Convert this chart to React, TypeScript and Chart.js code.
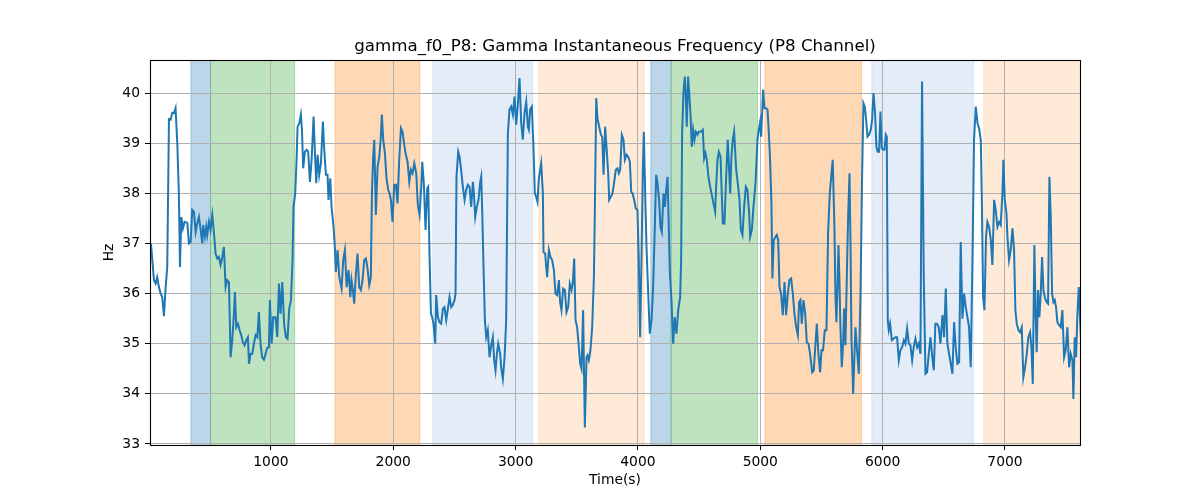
import React, { useEffect, useRef } from "react";
import { Chart, registerables } from "chart.js";

Chart.register(...registerables);

const chartTitle = "gamma_f0_P8: Gamma Instantaneous Frequency (P8 Channel)";
const xLabel = "Time(s)";
const yLabel = "Hz";

const timeS = [
  20, 44, 58, 71, 85, 99, 112, 126, 140, 153, 167, 180, 194, 208, 221, 235, 248, 257, 268, 281,
  295, 317, 330, 344, 357, 371, 385, 398, 412, 426, 439, 447, 461, 472, 480, 494, 507, 521, 535, 548,
  562, 575, 589, 603, 616, 630, 643, 657, 671, 684, 698, 706, 717, 731, 744, 758, 771, 785, 799, 812,
  821, 834, 848, 861, 875, 889, 902, 916, 929, 943, 957, 970, 984, 992, 1006, 1019, 1038, 1052, 1066, 1079,
  1093, 1109, 1123, 1136, 1150, 1164, 1177, 1185, 1199, 1210, 1218, 1232, 1245, 1254, 1264, 1278, 1292, 1305, 1319, 1333,
  1349, 1360, 1371, 1382, 1395, 1409, 1425, 1436, 1450, 1463, 1471, 1485, 1496, 1512, 1523, 1531, 1545, 1559, 1578, 1591,
  1605, 1619, 1635, 1649, 1659, 1670, 1681, 1695, 1708, 1722, 1736, 1749, 1763, 1777, 1790, 1804, 1817, 1826, 1836, 1845,
  1858, 1872, 1886, 1899, 1907, 1918, 1932, 1945, 1959, 1970, 1981, 1994, 2008, 2022, 2035, 2049, 2063, 2076, 2090, 2103,
  2117, 2131, 2144, 2158, 2172, 2188, 2201, 2215, 2229, 2237, 2250, 2264, 2278, 2286, 2297, 2308, 2318, 2329, 2343, 2351,
  2365, 2378, 2392, 2406, 2419, 2433, 2447, 2460, 2474, 2487, 2501, 2509, 2517, 2531, 2542, 2555, 2569, 2583, 2596, 2610,
  2624, 2637, 2651, 2659, 2670, 2683, 2697, 2711, 2719, 2727, 2738, 2749, 2760, 2773, 2787, 2798, 2814, 2825, 2836, 2847,
  2858, 2874, 2882, 2896, 2910, 2923, 2937, 2950, 2964, 2978, 2991, 3005, 3019, 3032, 3046, 3059, 3073, 3087, 3100, 3108,
  3119, 3133, 3147, 3157, 3168, 3179, 3190, 3209, 3223, 3228, 3242, 3250, 3258, 3272, 3285, 3299, 3313, 3326, 3340, 3354,
  3364, 3375, 3389, 3403, 3416, 3430, 3443, 3457, 3468, 3479, 3490, 3503, 3517, 3528, 3539, 3552, 3566, 3580, 3588, 3599,
  3612, 3626, 3640, 3648, 3659, 3669, 3683, 3697, 3708, 3719, 3732, 3743, 3757, 3765, 3778, 3792, 3806, 3819, 3833, 3844,
  3855, 3868, 3882, 3893, 3907, 3920, 3934, 3945, 3956, 3969, 3983, 3996, 4007, 4018, 4029, 4040, 4048, 4059, 4070, 4084,
  4097, 4111, 4124, 4138, 4149, 4160, 4173, 4184, 4195, 4209, 4220, 4231, 4242, 4252, 4261, 4274, 4288, 4301, 4315, 4329,
  4345, 4353, 4361, 4372, 4383, 4391, 4399, 4410, 4421, 4429, 4440, 4451, 4462, 4473, 4487, 4497, 4514, 4530, 4541, 4552,
  4563, 4576, 4590, 4604, 4617, 4631, 4639, 4650, 4661, 4675, 4685, 4694, 4707, 4721, 4734, 4745, 4754, 4764, 4775, 4786,
  4794, 4803, 4816, 4830, 4841, 4854, 4868, 4882, 4895, 4909, 4917, 4931, 4944, 4961, 4977, 4988, 4999, 5007, 5015, 5023,
  5034, 5048, 5059, 5070, 5080, 5091, 5099, 5110, 5124, 5135, 5146, 5157, 5170, 5184, 5198, 5211, 5225, 5238, 5252, 5266,
  5279, 5293, 5307, 5317, 5328, 5339, 5353, 5367, 5380, 5394, 5407, 5424, 5437, 5451, 5462, 5475, 5489, 5500, 5513, 5527,
  5541, 5554, 5568, 5582, 5592, 5606, 5614, 5622, 5631, 5639, 5647, 5655, 5666, 5677, 5685, 5696, 5710, 5718, 5729, 5737,
  5745, 5759, 5770, 5778, 5789, 5805, 5819, 5832, 5843, 5854, 5865, 5876, 5889, 5903, 5914, 5925, 5938, 5949, 5960, 5971,
  5982, 5993, 6004, 6015, 6026, 6034, 6042, 6050, 6061, 6075, 6088, 6105, 6118, 6132, 6145, 6159, 6173, 6186, 6200, 6214,
  6227, 6241, 6254, 6268, 6282, 6295, 6309, 6322, 6336, 6350, 6363, 6377, 6391, 6404, 6418, 6431, 6445, 6459, 6472, 6489,
  6502, 6516, 6529, 6543, 6557, 6570, 6584, 6597, 6611, 6625, 6638, 6652, 6666, 6679, 6693, 6706, 6720, 6734, 6747, 6761,
  6775, 6788, 6802, 6810, 6821, 6832, 6845, 6856, 6870, 6884, 6897, 6911, 6924, 6938, 6952, 6965, 6979, 6987, 6998, 7012,
  7020, 7033, 7047, 7061, 7074, 7085, 7096, 7110, 7123, 7137, 7150, 7164, 7178, 7191, 7205, 7216, 7227, 7240, 7251, 7259,
  7270, 7281, 7292, 7303, 7314, 7328, 7341, 7352, 7363, 7374, 7385, 7396, 7407, 7417, 7428, 7442, 7456, 7469, 7483, 7496,
  7510, 7524, 7537, 7551, 7559, 7570, 7581, 7592, 7603, 7620,
];

const freqHz = [
  37.0, 36.27, 36.2, 36.33, 36.13, 36.0, 35.93, 35.55, 36.13, 36.53, 39.48, 39.47, 39.61, 39.6, 39.7, 39.0, 38.0, 36.53, 37.53, 37.3,
  37.43, 37.41, 37.0, 37.03, 37.67, 37.63, 37.23, 37.4, 37.53, 37.27, 37.0, 37.37, 37.13, 37.33, 37.17, 37.43, 37.27, 37.57, 37.2, 36.8,
  36.7, 36.73, 36.57, 36.73, 36.93, 36.13, 36.27, 36.23, 34.73, 35.07, 35.6, 36.03, 35.33, 35.4, 35.27, 35.17, 35.03, 34.97, 35.07, 35.13,
  34.6, 34.8, 34.8, 35.0, 35.17, 35.13, 35.63, 34.97, 34.73, 34.68, 34.8, 34.92, 34.93, 35.87, 35.0, 35.53, 35.53, 35.13, 36.2, 35.6,
  36.23, 35.37, 35.13, 35.1, 35.7, 35.87, 36.67, 37.73, 38.0, 38.67, 39.33, 39.4, 39.57, 39.27, 38.5, 38.83, 38.87, 38.83, 38.23, 38.67,
  39.53, 38.8, 38.2, 38.77, 38.37, 38.6, 39.43, 38.87, 38.37, 38.37, 37.87, 38.3, 37.73, 37.33, 36.93, 36.43, 36.87, 36.33, 36.1, 36.67,
  36.87, 36.13, 36.47, 35.93, 36.27, 36.07, 35.8, 36.4, 36.8, 36.13, 36.07, 36.27, 36.67, 36.7, 36.5, 36.17, 36.33, 38.0, 38.73, 39.07,
  37.57, 38.53, 38.73, 39.13, 39.57, 39.07, 38.8, 38.3, 38.07, 38.0, 37.87, 37.43, 38.17, 38.17, 37.8, 38.67, 39.3, 39.23, 38.97, 38.77,
  38.63, 38.23, 38.47, 38.4, 38.6, 38.4, 37.77, 37.57, 38.13, 38.63, 38.2, 37.27, 38.1, 38.13, 36.73, 35.6, 35.53, 35.4, 35.0, 35.97,
  35.53, 35.43, 35.4, 35.7, 35.73, 35.47, 35.7, 35.93, 35.73, 35.77, 35.87, 36.0, 38.33, 38.83, 38.73, 38.47, 38.13, 37.87, 38.07, 38.17,
  38.13, 37.73, 38.23, 38.0, 37.53, 37.73, 37.87, 38.23, 38.33, 37.67, 36.53, 35.47, 35.13, 35.27, 34.73, 34.93, 35.13, 34.67, 34.47, 34.8,
  35.0, 34.8, 34.53, 34.3, 34.73, 35.47, 39.2, 39.67, 39.73, 39.57, 39.93, 39.37, 39.8, 40.3, 39.4, 39.07, 39.6, 39.83, 39.33, 39.27,
  39.67, 39.73, 38.87, 38.0, 37.93, 37.83, 38.3, 38.6, 38.0, 36.83, 36.8, 36.53, 36.33, 36.87, 36.73, 36.67, 36.47, 36.0, 35.97, 36.27,
  35.83, 35.67, 36.1, 36.07, 35.63, 35.73, 36.2, 36.07, 36.23, 36.7, 35.47, 35.33, 34.93, 34.6, 34.5, 35.67, 33.33, 34.73, 34.77, 34.67,
  34.87, 35.33, 36.33, 37.67, 39.9, 39.5, 39.33, 39.17, 39.13, 38.37, 39.33, 38.93, 38.4, 37.87, 37.93, 38.0, 38.23, 38.47, 38.5, 38.4,
  38.47, 39.17, 39.07, 38.67, 38.77, 38.73, 38.63, 38.03, 38.0, 37.87, 37.7, 37.67, 36.67, 35.13, 36.67, 38.47, 39.23, 38.0, 36.93, 36.0,
  35.2, 35.47, 36.13, 37.33, 38.37, 38.2, 37.87, 37.33, 37.23, 38.0, 37.73, 38.07, 38.33, 37.33, 36.4, 35.87, 35.0, 35.53, 35.2, 35.67,
  35.93, 36.67, 39.2, 40.0, 40.33, 39.93, 39.33, 40.33, 39.93, 39.6, 38.93, 39.27, 39.07, 39.23, 39.17, 39.23, 39.23, 39.27, 38.7, 38.8,
  38.67, 38.33, 38.13, 37.97, 37.8, 37.63, 38.13, 38.67, 38.83, 38.73, 38.0, 37.4, 37.4, 38.33, 39.07, 38.47, 38.0, 38.73, 39.07, 39.23,
  38.87, 38.47, 38.2, 37.87, 37.27, 37.17, 37.73, 38.13, 38.07, 37.6, 37.13, 37.27, 37.73, 38.2, 39.07, 39.27, 39.43, 39.13, 39.6, 40.07,
  39.7, 39.7, 39.67, 39.2, 38.67, 37.8, 36.3, 37.07, 37.13, 37.17, 37.07, 36.13, 36.0, 35.57, 36.23, 35.57, 36.0, 36.27, 36.3, 36.0,
  35.6, 35.33, 35.17, 35.83, 35.87, 35.4, 35.87, 35.6, 35.03, 35.0, 34.8, 34.43, 34.47, 35.0, 35.4, 34.8, 34.43, 34.87, 34.87, 35.27,
  35.27, 37.2, 38.0, 38.4, 38.67, 37.33, 36.0, 35.43, 36.13, 36.97, 36.27, 35.33, 34.53, 35.0, 35.7, 34.97, 36.67, 37.53, 38.4, 37.07,
  35.13, 34.0, 34.8, 35.33, 34.93, 34.4, 36.0, 38.33, 39.8, 39.73, 39.47, 39.13, 39.17, 39.27, 39.47, 40.0, 39.6, 38.93, 38.83, 38.83,
  39.63, 38.9, 38.87, 38.87, 39.17, 39.13, 35.47, 35.27, 35.4, 35.07, 35.1, 35.13, 35.13, 34.67, 34.87, 34.93, 35.07, 35.0, 35.3, 35.0,
  34.97, 34.67, 34.93, 35.1, 34.93, 35.0, 34.8, 40.23, 36.33, 34.4, 34.43, 34.8, 35.13, 34.77, 34.47, 35.4, 35.4, 35.33, 35.0, 35.57,
  35.13, 36.1, 35.0, 34.8, 34.6, 34.4, 35.43, 34.93, 34.6, 34.63, 37.03, 35.5, 36.0, 35.73, 35.53, 35.33, 34.53, 36.67, 39.07, 39.73,
  39.4, 39.3, 39.07, 38.0, 35.93, 35.67, 37.13, 37.43, 37.33, 37.07, 36.57, 37.87, 37.67, 37.33, 37.43, 37.37, 38.0, 38.67, 37.87, 37.6,
  37.13, 36.67, 36.87, 37.3, 36.87, 35.67, 35.4, 35.27, 35.23, 35.33, 34.33, 34.53, 34.8, 35.13, 35.23, 34.93, 34.2, 36.97, 35.53, 34.83,
  36.07, 35.53, 36.0, 36.73, 36.07, 35.9, 35.83, 35.8, 38.33, 37.53, 36.0, 35.83, 35.87, 35.73, 35.43, 35.37, 35.33, 35.67, 34.73, 34.87,
  35.33, 34.53, 34.8, 34.67, 33.9, 35.13, 34.73, 35.6, 36.13, 35.13,
];

const xTicks = [1000, 2000, 3000, 4000, 5000, 6000, 7000];
const yTicks = [33, 34, 35, 36, 37, 38, 39, 40];
const xRange = [12, 7613];
const yRange = [32.98, 40.66];

// shaded phases
const spanStart = [346, 507, 1523, 2324, 3190, 4105, 4271, 5037, 5911, 6826];
const spanEnd = [507, 1194, 2218, 3139, 4050, 4271, 4977, 5827, 6742, 7700];
const spanKind = ["blue", "green", "orange", "paleBlue", "paleOrange", "blue", "green", "orange", "paleBlue", "paleOrange"];

const kindFill: Record<string, string> = {
  blue: "rgba(31,119,180,0.3)",
  green: "rgba(44,160,44,0.3)",
  orange: "rgba(255,127,14,0.3)",
  paleBlue: "rgba(31,100,190,0.12)",
  paleOrange: "rgba(255,127,14,0.16)",
};

export default function App() {
  const ref = useRef<HTMLCanvasElement>(null);

  useEffect(() => {
    if (!ref.current) return;
    const spanPlugin = {
      id: "spans",
      beforeDraw(chart: any) {
        const { ctx, chartArea: a, scales } = chart;
        const x = scales.x;
        ctx.save();
        ctx.beginPath();
        ctx.rect(a.left, a.top, a.right - a.left, a.bottom - a.top);
        ctx.clip();
        spanStart.forEach((s, i) => {
          const x0 = x.getPixelForValue(s);
          const x1 = x.getPixelForValue(spanEnd[i]);
          ctx.fillStyle = kindFill[spanKind[i]];
          ctx.fillRect(x0, a.top - 2, x1 - x0, a.bottom - a.top + 4);
          ctx.strokeStyle = kindFill[spanKind[i]];
          ctx.lineWidth = 1;
          ctx.strokeRect(x0, a.top - 2, x1 - x0, a.bottom - a.top + 4);
        });
        ctx.restore();
      },
    };
    const framePlugin = {
      id: "frame",
      afterDatasetsDraw(chart: any) {
        const { ctx, chartArea: a } = chart;
        ctx.save();
        ctx.strokeStyle = "#000";
        ctx.lineWidth = 1.1;
        ctx.strokeRect(Math.round(a.left) + 0.5, Math.round(a.top) + 0.5, Math.round(a.right - a.left), Math.round(a.bottom - a.top));
        ctx.restore();
      },
    };

    Chart.defaults.font.family = "'DejaVu Sans', sans-serif";
    Chart.defaults.color = "#000";

    const chart = new Chart(ref.current, {
      type: "line",
      data: {
        datasets: [
          {
            data: timeS.map((t, i) => ({ x: t, y: freqHz[i] })),
            borderColor: "#1f77b4",
            borderWidth: 2,
            pointRadius: 0,
            tension: 0,
            fill: false,
          },
        ],
      },
      options: {
        animation: false,
        responsive: false,
        devicePixelRatio: 1,
        layout: { padding: { left: 0, right: 120, top: 0, bottom: 0 } },
        plugins: {
          legend: { display: false },
          tooltip: { enabled: false },
          title: {
            display: true,
            text: chartTitle,
            fullSize: false,
            color: "#000",
            font: { size: 16.67, weight: "normal", family: "'DejaVu Sans', sans-serif", lineHeight: 1.2 },
            padding: { top: 37, bottom: 3 },
          },
        },
        scales: {
          x: {
            type: "linear",
            min: xRange[0],
            max: xRange[1],
            afterFit: (s: any) => {
              s.height = 55;
            },
            afterBuildTicks: (s: any) => {
              s.ticks = xTicks.map((v) => ({ value: v }));
            },
            ticks: {
              callback: (v: any) => String(v),
              font: { size: 13.89 },
              color: "#000",
              padding: 4,
              maxRotation: 0,
              autoSkip: false,
            },
            grid: { color: "#b0b0b0", lineWidth: 1, tickLength: 5, tickColor: "#000", tickWidth: 1 },
            border: { display: false },
            title: {
              display: true,
              text: xLabel,
              color: "#000",
              font: { size: 13.89 },
              padding: { top: 0, bottom: 11.7 },
            },
          },
          y: {
            type: "linear",
            min: yRange[0],
            max: yRange[1],
            afterFit: (s: any) => {
              s.width = 150;
            },
            afterBuildTicks: (s: any) => {
              s.ticks = yTicks.map((v) => ({ value: v }));
            },
            ticks: {
              callback: (v: any) => String(v),
              font: { size: 13.89 },
              color: "#000",
              padding: 5,
              autoSkip: false,
            },
            grid: { color: "#b0b0b0", lineWidth: 1, tickLength: 5, tickColor: "#000", tickWidth: 1 },
            border: { display: false },
            title: {
              display: true,
              text: yLabel,
              color: "#000",
              font: { size: 13.89 },
              padding: { top: 101, bottom: 0 },
            },
          },
        },
      },
      plugins: [spanPlugin, framePlugin],
    } as any);

    return () => chart.destroy();
  }, []);

  return (
    <div style={{ position: "absolute", left: 0, top: 0, width: 1200, height: 500, background: "#fff" }}>
      <canvas ref={ref} width={1200} height={500} style={{ display: "block", width: 1200, height: 500 }} />
    </div>
  );
}
